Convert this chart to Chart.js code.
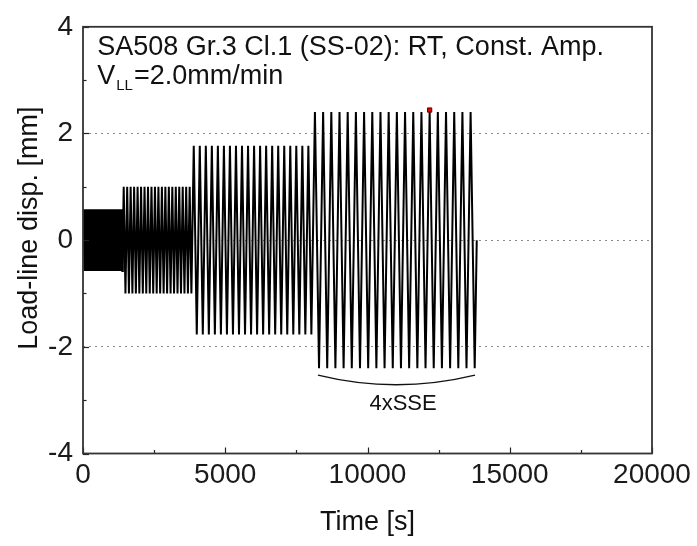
<!DOCTYPE html>
<html>
<head>
<meta charset="utf-8">
<script src="https://cdn.jsdelivr.net/npm/chart.js@4.4.1/dist/chart.umd.min.js"></script>
<style>
html,body{margin:0;padding:0;background:#fff;}
#wrap{width:697px;height:546px;}
</style>
</head>
<body>
<div id="wrap"><canvas id="c" width="697" height="546"></canvas></div>
<script>
// ---- Data (turning points of the load-line displacement) ----
const block1Time = [0,18,53,88,123,158,193,228,263,298,333,368,403,438,473,508,543,578,613,648,683,718,753,788,823,858,893,928,963,998,1033,1068,1103,1138,1173,1208,1243,1278,1313,1348,1383,1400];
const block1Disp = [0,0.58,-0.58,0.58,-0.58,0.58,-0.58,0.58,-0.58,0.58,-0.58,0.58,-0.58,0.58,-0.58,0.58,-0.58,0.58,-0.58,0.58,-0.58,0.58,-0.58,0.58,-0.58,0.58,-0.58,0.58,-0.58,0.58,-0.58,0.58,-0.58,0.58,-0.58,0.58,-0.58,0.58,-0.58,0.58,-0.58,0];

const block2Time = [1400,1431,1492,1553,1614,1675,1736,1797,1858,1919,1980,2041,2102,2163,2224,2285,2346,2407,2468,2529,2590,2651,2712,2773,2834,2895,2956,3017,3078,3139,3200,3261,3322,3383,3444,3505,3566,3627,3688,3749,3810,3840];
const block2Disp = [0,1.0,-1.0,1.0,-1.0,1.0,-1.0,1.0,-1.0,1.0,-1.0,1.0,-1.0,1.0,-1.0,1.0,-1.0,1.0,-1.0,1.0,-1.0,1.0,-1.0,1.0,-1.0,1.0,-1.0,1.0,-1.0,1.0,-1.0,1.0,-1.0,1.0,-1.0,1.0,-1.0,1.0,-1.0,1.0,-1.0,0];

const block3Time = [3840,3893,3999,4105,4211,4317,4423,4529,4635,4741,4847,4953,5059,5165,5271,5377,5483,5589,5695,5801,5907,6013,6119,6225,6331,6437,6543,6649,6755,6861,6967,7073,7179,7285,7391,7497,7603,7709,7815,7921,8027,8080];
const block3Disp = [0,1.77,-1.77,1.77,-1.77,1.77,-1.77,1.77,-1.77,1.77,-1.77,1.77,-1.77,1.77,-1.77,1.77,-1.77,1.77,-1.77,1.77,-1.77,1.77,-1.77,1.77,-1.77,1.77,-1.77,1.77,-1.77,1.77,-1.77,1.77,-1.77,1.77,-1.77,1.77,-1.77,1.77,-1.77,1.77,-1.77,0];

const block4Time = [8080,8152,8296,8440,8584,8728,8872,9016,9160,9304,9448,9592,9736,9880,10024,10168,10312,10456,10600,10744,10888,11032,11176,11320,11464,11608,11752,11896,12040,12184,12328,12472,12616,12760,12904,13048,13192,13336,13480,13624,13768,13840];
const block4Disp = [0,2.40,-2.40,2.40,-2.40,2.40,-2.40,2.40,-2.40,2.40,-2.40,2.40,-2.40,2.40,-2.40,2.40,-2.40,2.40,-2.40,2.40,-2.40,2.40,-2.40,2.40,-2.40,2.40,-2.40,2.40,-2.40,2.40,-2.40,2.40,-2.40,2.40,-2.40,2.40,-2.40,2.40,-2.40,2.40,-2.40,0];

const markerTime = [12184];
const markerDisp = [2.44];

const xTickValues = [0,5000,10000,15000,20000];
const yTickValues = [-4,-2,0,2,4];
const dottedGridValues = [-2,0,2];

const annotationLine1 = 'SA508 Gr.3 Cl.1 (SS-02): RT, Const. Amp.';
const annotationLine2Main = 'V';
const annotationLine2Sub = 'LL';
const annotationLine2Rest = '=2.0mm/min';
const braceLabel = '4xSSE';
const xTitle = 'Time [s]';
const yTitle = 'Load-line disp. [mm]';

// ---- build points ----
function toPoints(t, v){ return t.map((tt,i)=>({x:tt, y:v[i]})); }
const signal = [].concat(
  toPoints(block1Time, block1Disp),
  toPoints(block2Time, block2Disp),
  toPoints(block3Time, block3Disp),
  toPoints(block4Time, block4Disp)
);
const marker = toPoints(markerTime, markerDisp);

const FONT = "'Liberation Sans', Arial, Helvetica, sans-serif";

const decor = {
  id: 'decor',
  afterDatasetsDraw(chart){
    const {ctx, chartArea:{left,right,top,bottom}, scales:{x,y}} = chart;
    ctx.save();
    // inward ticks
    ctx.strokeStyle = '#222';
    ctx.lineWidth = 1.2;
    x.ticks.forEach(t=>{
      const px = Math.round(x.getPixelForValue(t.value))+0.5;
      const len = xTickValues.includes(t.value) ? 6 : 3.5;
      ctx.beginPath(); ctx.moveTo(px, bottom); ctx.lineTo(px, bottom-len); ctx.stroke();
    });
    y.ticks.forEach(t=>{
      const py = Math.round(y.getPixelForValue(t.value))+0.5;
      const len = yTickValues.includes(t.value) ? 6 : 3.5;
      ctx.beginPath(); ctx.moveTo(left, py); ctx.lineTo(left+len, py); ctx.stroke();
    });
    // frame
    ctx.strokeStyle = '#333';
    ctx.lineWidth = 1.8;
    ctx.strokeRect(left, top, right-left, bottom-top);

    // brace under the 4xSSE block
    ctx.strokeStyle = '#111';
    ctx.lineWidth = 1.4;
    ctx.beginPath();
    ctx.moveTo(x.getPixelForValue(8260), y.getPixelForValue(-2.53));
    ctx.quadraticCurveTo(x.getPixelForValue(11000), y.getPixelForValue(-2.89),
                         x.getPixelForValue(13780), y.getPixelForValue(-2.53));
    ctx.stroke();

    ctx.fillStyle = '#111';
    ctx.textBaseline = 'alphabetic';
    ctx.textAlign = 'center';
    ctx.font = '22px ' + FONT;
    ctx.fillText(braceLabel, x.getPixelForValue(11250), y.getPixelForValue(-3.18));

    // annotation text
    ctx.textAlign = 'left';
    ctx.font = '27px ' + FONT;
    const ax = x.getPixelForValue(500);
    ctx.fillText(annotationLine1, ax, y.getPixelForValue(3.465));
    const by = y.getPixelForValue(2.93);
    ctx.fillText(annotationLine2Main, ax, by);
    let w = ctx.measureText(annotationLine2Main).width;
    ctx.font = '15px ' + FONT;
    ctx.fillText(annotationLine2Sub, ax + w + 1, by + 6);
    const w2 = ctx.measureText(annotationLine2Sub).width;
    ctx.font = '27px ' + FONT;
    ctx.fillText(annotationLine2Rest, ax + w + w2 + 2, by);

    // axis titles
    ctx.font = '27px ' + FONT;
    ctx.textAlign = 'center';
    ctx.fillText(xTitle, (left+right)/2, bottom + 76);
    ctx.save();
    ctx.translate(left - 46, (top+bottom)/2 - 12);
    ctx.rotate(-Math.PI/2);
    ctx.fillText(yTitle, 0, 0);
    ctx.restore();
    ctx.restore();
  }
};

new Chart(document.getElementById('c'), {
  type: 'scatter',
  data: {
    datasets: [
      {
        data: signal,
        showLine: true,
        borderColor: '#000',
        borderWidth: 2,
        pointRadius: 0,
        tension: 0,
        order: 2
      },
      {
        data: marker,
        showLine: false,
        pointStyle: 'rect',
        pointRadius: 3,
        backgroundColor: '#e00000',
        borderColor: '#600',
        borderWidth: 1,
        order: 1
      }
    ]
  },
  options: {
    responsive: false,
    animation: false,
    devicePixelRatio: 1,
    layout: { padding: { left: 0, right: 45, top: 20, bottom: 0 } },
    plugins: { legend: { display: false }, tooltip: { enabled: false } },
    scales: {
      x: {
        type: 'linear',
        min: 0, max: 20000,
        afterFit(s){ s.height = 92.5; },
        afterBuildTicks(s){
          const t = [];
          for (let v = 0; v <= 20000; v += 2500) t.push({value: v});
          s.ticks = t;
        },
        ticks: {
          autoSkip: false,
          maxRotation: 0,
          padding: 5,
          color: '#1a1a1a',
          font: { size: 28, family: FONT },
          callback: v => xTickValues.includes(v) ? String(v) : ''
        },
        grid: { display: false, drawTicks: false },
        border: { display: false }
      },
      y: {
        type: 'linear',
        min: -4, max: 4,
        afterFit(s){ s.width = 83; },
        afterBuildTicks(s){
          const t = [];
          for (let v = -4; v <= 4; v += 1) t.push({value: v});
          s.ticks = t;
        },
        ticks: {
          autoSkip: false,
          padding: 10,
          color: '#1a1a1a',
          font: { size: 28, family: FONT },
          callback: v => yTickValues.includes(v) ? String(v) : ''
        },
        grid: {
          drawTicks: false,
          lineWidth: 1,
          color: ctx => (ctx.tick && dottedGridValues.includes(ctx.tick.value)) ? '#8a8a8a' : 'rgba(0,0,0,0)'
        },
        border: { display: false, dash: [2, 4] }
      }
    }
  },
  plugins: [decor]
});
</script>
</body>
</html>
